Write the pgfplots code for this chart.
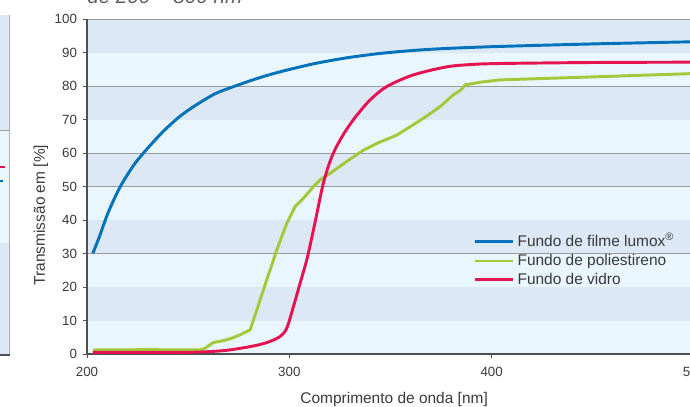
\documentclass[border=0pt]{standalone}
\usepackage{fontspec}
\setmainfont{Liberation Sans}
\usepackage{pgfplots}
\pgfplotsset{compat=1.18}

\definecolor{lumoxblue}{HTML}{0072BC}
\definecolor{psgreen}{HTML}{A3C83A}
\definecolor{glassred}{HTML}{E5134F}
\definecolor{banddark}{HTML}{DCE8F5}
\definecolor{bandlight}{HTML}{E9F6FE}
\definecolor{gridgray}{HTML}{9A9A9A}
\definecolor{axisgray}{HTML}{505050}
\definecolor{textgray}{HTML}{3A3A3A}

\begin{document}
\begin{tikzpicture}
\begin{axis}[
    name=ax, at={(0,0)}, anchor=south west,
    scale only axis, width=455.25pt, height=251pt,
    xmin=200, xmax=500, ymin=0, ymax=100,
    set layers,
    axis x line=bottom, axis y line=left,
    axis line style={-, draw=axisgray, line width=0.8pt},
    xtick={200,300,400,500}, ytick={0,10,...,100},
    tick align=outside, major tick length=3pt,
    tick style={draw=axisgray, line width=0.6pt},
    extra y ticks={30,50,60,80,100}, extra y tick labels={},
    extra y tick style={grid=major, tick style={draw=none}},
    grid style={gridgray, line width=0.6pt},
    ticklabel style={font=\fontsize{10}{12}\selectfont, text=textgray},
    xticklabel style={yshift=-3pt},
    yticklabel style={xshift=-1pt},
    /pgf/number format/assume math mode=true,
    xlabel={Comprimento de onda [nm]},
    ylabel={Transmissão em [\%]},
    label style={font=\fontsize{11.6}{14}\selectfont, text=textgray},
    xlabel style={at={(axis description cs:0.506,-0.1494)}, anchor=base},
    ylabel style={at={(axis description cs:-0.0758,0.415)}, anchor=center},
    legend style={at={(axis description cs:0.636,0.369)}, anchor=north west,
        draw=none, fill=none, font=\fontsize{11.6}{14}\selectfont,
        text=textgray, row sep=0.2pt, inner sep=0pt},
    legend cell align=left,
    legend image code/.code={\draw[#1, line width=2.2pt] (0pt,0pt) -- (23pt,0pt);
        \path (0pt,0pt) -- (29pt,0pt);},
    every axis plot/.append style={line width=2.2pt, line join=round},
]
\begin{pgfonlayer}{axis background}
  \fill[bandlight] (axis cs:200,0) rectangle (axis cs:500,100);
  \fill[banddark] (axis cs:200,10) rectangle (axis cs:500,20);
  \fill[banddark] (axis cs:200,30) rectangle (axis cs:500,40);
  \fill[banddark] (axis cs:200,50) rectangle (axis cs:500,60);
  \fill[banddark] (axis cs:200,70) rectangle (axis cs:500,80);
  \fill[banddark] (axis cs:200,90) rectangle (axis cs:500,100);
\end{pgfonlayer}

\addplot[lumoxblue, smooth] coordinates {
  (202.9,30.1) (206.1,35.0) (210.3,42.0) (216.0,49.5) (222.6,56.0)
  (228.4,60.4) (237.5,66.4) (245.7,70.9) (253.9,74.4) (263.8,77.9)
  (274.8,80.4) (285,82.5) (295.3,84.3) (311.9,86.7) (328.4,88.5)
  (344.8,89.8) (361.3,90.7) (377.8,91.3) (404.1,91.9) (453.5,92.7)
  (500,93.3)
};
\addlegendentry{Fundo de filme lumox\textsuperscript{®}}

\addplot[psgreen] coordinates {
  (202.9,1.2) (230,1.3) (255.9,1.2) (258,1.6) (262.4,3.4) (267.4,4.0)
  (271,4.6) (275.6,5.7) (280.6,7.2) (283.9,13.1) (288.8,22.1) (293.8,31.1)
  (298.7,39) (302.8,44.0) (306.9,46.5) (311.9,50.0) (315.2,52.0)
  (320.1,54.0) (330,58.2) (336.6,60.9) (343.2,62.9) (353.1,65.4)
  (366.2,70.4) (374.5,73.9) (381,77.4) (385.2,79.1) (386.8,80.4)
  (394.2,81.2) (404.1,81.9) (450,82.8) (500,83.8)
};
\addlegendentry{Fundo de poliestireno}

\addplot[glassred, smooth] coordinates {
  (202.9,0.5) (230,0.5) (250.9,0.5) (267.4,1.0) (280.6,2.2) (288.8,3.4)
  (295.4,5.2) (298.7,7.7) (302.0,14.1) (305.3,21.1) (308.6,28.1)
  (311.9,37.0) (314.3,44.0) (316.8,51.0) (319.5,56.5) (322.5,61.0)
  (326.7,65.6) (330.0,68.6) (333.3,71.3) (339.9,75.9) (348.1,79.9)
  (361.3,83.4) (377.8,85.8) (390,86.5) (404.1,86.8) (450,87.1) (500,87.2)
};
\addlegendentry{Fundo de vidro}
\end{axis}

% image pixel coordinates: origin at top left of the picture
\begin{scope}[x=0.75pt, y=-0.75pt, shift={(-65.25pt,265.5pt)}]
  % cut-off neighbouring panel at the left edge
  \fill[banddark] (-5,15) rectangle (9.5,130);
  \fill[bandlight] (-5,130) rectangle (9.5,243);
  \fill[banddark] (-5,243) rectangle (9.5,355);
  \draw[gridgray, line width=0.6pt] (-5,130) -- (9.5,130);
  \draw[gridgray!80, line width=0.8pt] (9.5,15) -- (9.5,355);
  \draw[axisgray, line width=0.8pt] (-5,355) -- (10,355);
  \draw[glassred, line width=1.5pt] (-2,167) -- (5,167);
  \draw[lumoxblue, line width=1.5pt] (-2,181) -- (3,181);
  % title, mostly cut off at the top
  \node[anchor=base west, inner sep=0pt, text=textgray!80,
        font=\fontsize{15.5}{18}\selectfont\itshape] at (87,4) {de 200 – 800 nm};
\end{scope}

\pgfresetboundingbox
\path[use as bounding box] (-65.25pt,-39.75pt) rectangle (452.25pt,265.5pt);
\end{tikzpicture}
\end{document}
